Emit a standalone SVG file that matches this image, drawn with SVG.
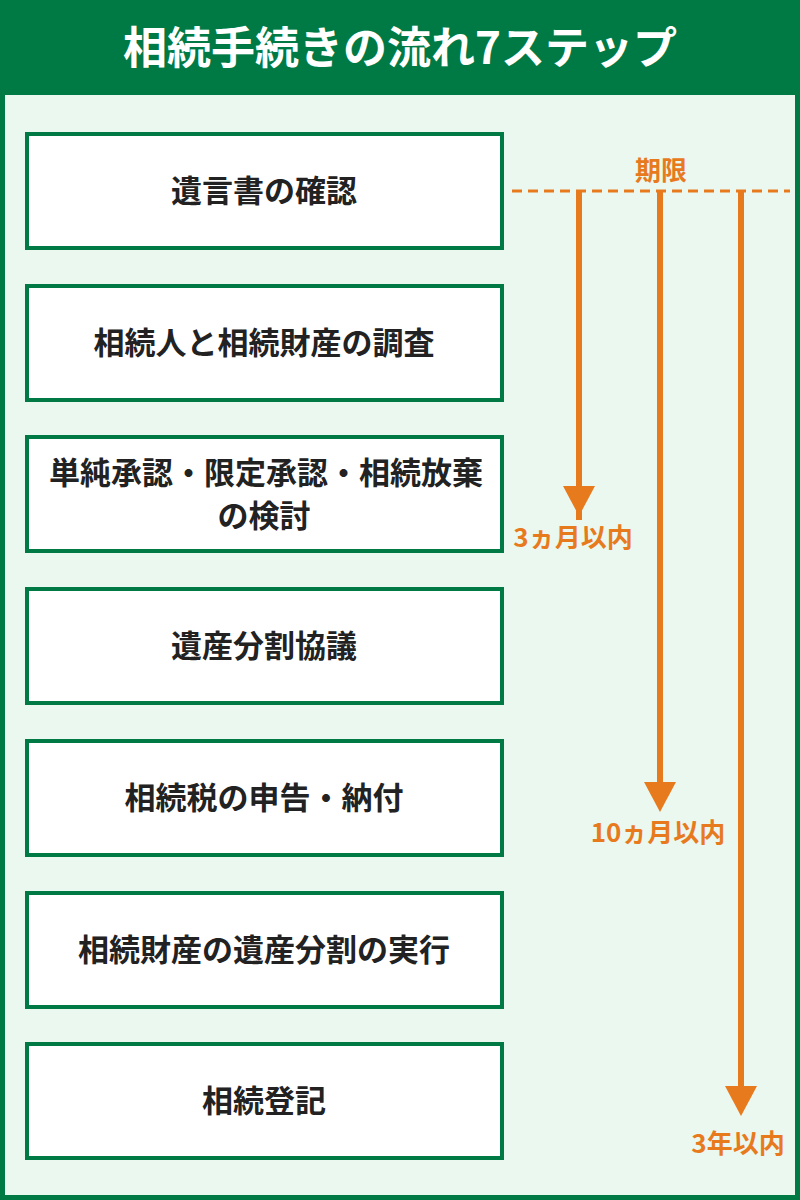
<svg xmlns="http://www.w3.org/2000/svg" width="800" height="1200" viewBox="0 0 800 1200">
<style>
.box{fill:#fff;stroke:#007a45;stroke-width:4}
.t{font-family:"Noto Sans CJK JP",sans-serif;font-weight:bold;font-size:31px;fill:#222;text-anchor:middle}
.o{font-family:"Noto Sans CJK JP",sans-serif;font-weight:bold;font-size:26px;fill:#e87a1e;text-anchor:middle}
.ln{stroke:#e87a1e;stroke-width:6;fill:none}
.ah{fill:#e87a1e}
</style>
<rect x="0" y="0" width="800" height="1200" fill="#007a45"/>
<rect x="5" y="95" width="790" height="1100" fill="#eaf8ef"/>
<text x="400" y="64" font-family="Noto Sans CJK JP,sans-serif" font-weight="bold" font-size="44" fill="#fff" text-anchor="middle">相続手続きの流れ7ステップ</text>
<g id="n1"><rect class="box" x="27" y="134" width="475" height="114"/><text class="t" x="264" y="202">遺言書の確認</text></g>
<g id="n2"><rect class="box" x="27" y="286" width="475" height="114"/><text class="t" x="264" y="354">相続人と相続財産の調査</text></g>
<g id="n3"><rect class="box" x="27" y="437" width="475" height="114"/><text class="t" x="266" y="484">単純承認・限定承認・相続放棄</text><text class="t" x="264" y="527">の検討</text></g>
<g id="n4"><rect class="box" x="27" y="589" width="475" height="114"/><text class="t" x="264" y="657">遺産分割協議</text></g>
<g id="n5"><rect class="box" x="27" y="741" width="475" height="114"/><text class="t" x="264" y="809">相続税の申告・納付</text></g>
<g id="n6"><rect class="box" x="27" y="893" width="475" height="114"/><text class="t" x="264" y="961">相続財産の遺産分割の実行</text></g>
<g id="n7"><rect class="box" x="27" y="1044" width="475" height="114"/><text class="t" x="264" y="1112">相続登記</text></g>
<g id="connectors">
<line x1="512" y1="191" x2="790" y2="191" stroke="#e87a1e" stroke-width="3" stroke-dasharray="10,6"/>
<text class="o" x="661" y="180">期限</text>
<line class="ln" x1="579" y1="191" x2="579" y2="520"/>
<path class="ah" d="M563,486 L595,486 L579,516 Z"/>
<line class="ln" x1="660" y1="191" x2="660" y2="786"/>
<path class="ah" d="M644,782 L676,782 L660,812 Z"/>
<line class="ln" x1="741" y1="191" x2="741" y2="1090"/>
<path class="ah" d="M725,1086 L757,1086 L741,1116 Z"/>
<text class="o" x="573" y="547">3ヵ月以内</text>
<text class="o" x="658" y="842">10ヵ月以内</text>
<text class="o" x="738" y="1153">3年以内</text>
</g>
</svg>
